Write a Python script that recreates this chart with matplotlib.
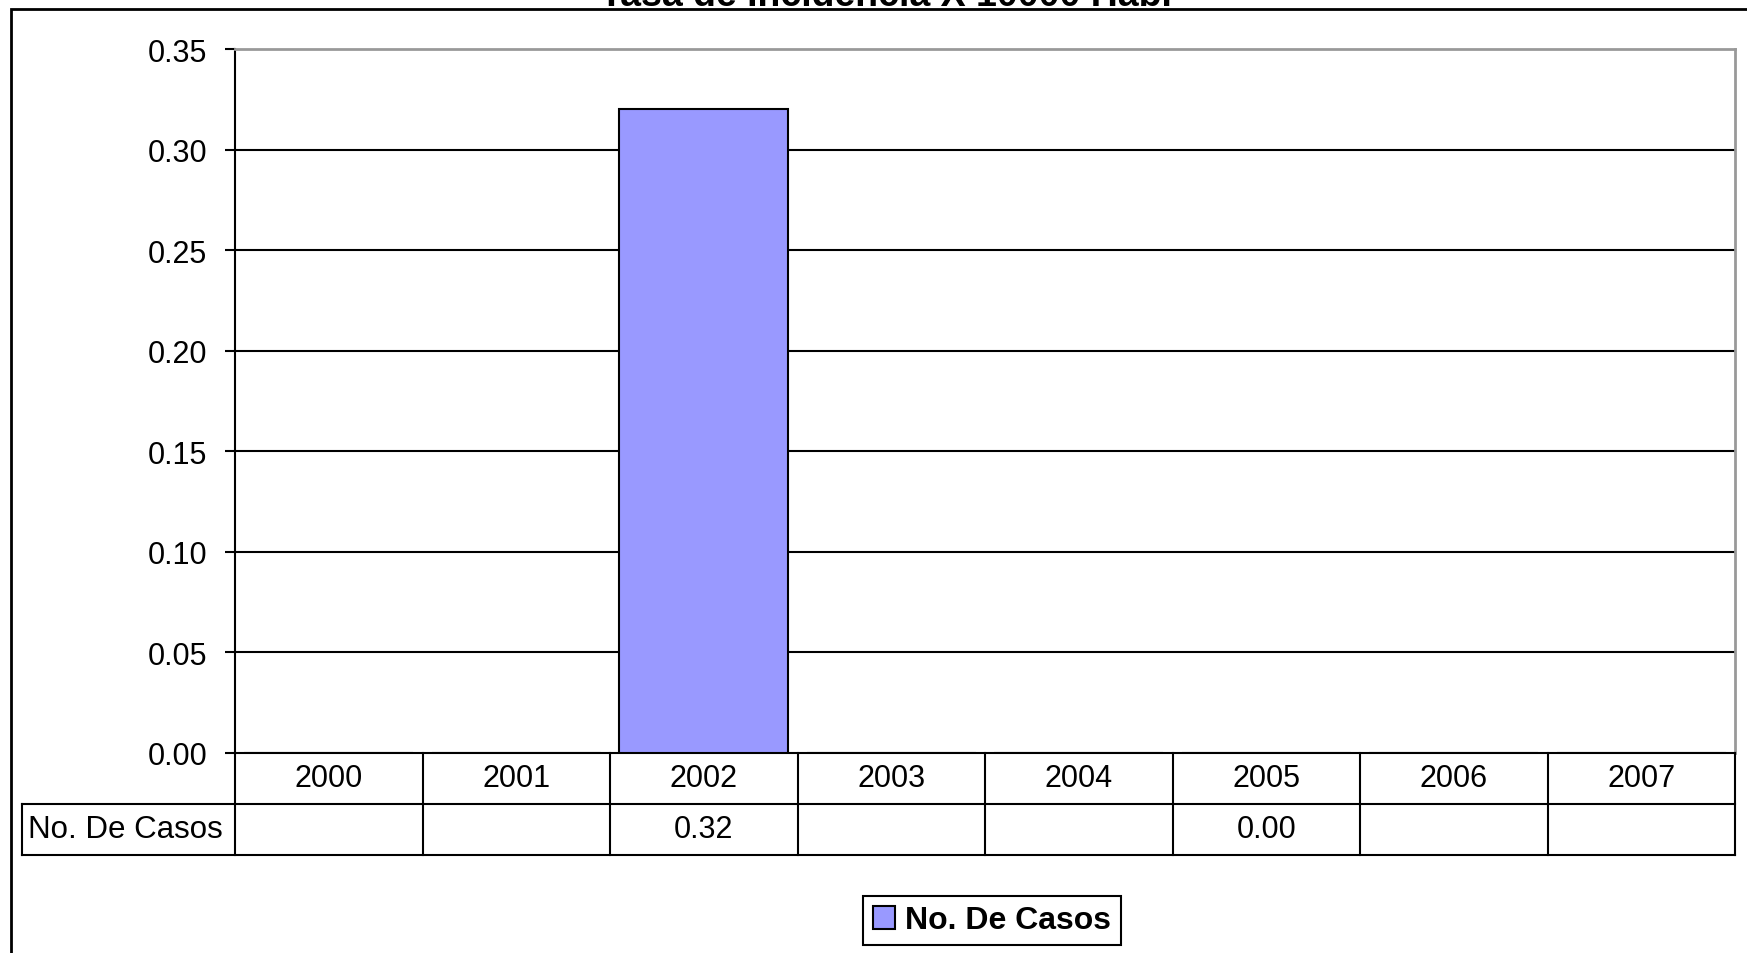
import numpy as np
import matplotlib.pyplot as plt
from matplotlib.patches import Rectangle

plt.rcParams['font.family'] = ['Liberation Sans', 'DejaVu Sans']

years = ['2000', '2001', '2002', '2003', '2004', '2005', '2006', '2007']
casos = [np.nan, np.nan, 0.32, np.nan, np.nan, 0.00, np.nan, np.nan]
serie = 'No. De Casos'
titulo = 'Tasa de Incidencia X 10000 Hab.'
yticks = [0.00, 0.05, 0.10, 0.15, 0.20, 0.25, 0.30, 0.35]

W, H = 1747, 954
fig = plt.figure(figsize=(W / 100, H / 100), dpi=100)

# pixel layout of the chart area and the data table below it
px_left, px_right = 235, 1735
px_top, px_zero, px_tab = 50, 754, 856
px_label = 22

ax = fig.add_axes([px_left / W, 1 - px_zero / H, (px_right - px_left) / W, (px_zero - px_top) / H])
x = np.arange(len(years))
vals = np.array(casos, dtype=float)
bars = ax.bar(x, np.nan_to_num(vals), width=0.9, color='#9999ff', edgecolor='black',
              linewidth=1.5, label=serie, zorder=3)
ax.set_xlim(-0.5, len(years) - 0.5)
ax.set_ylim(0, 0.35)
ax.set_yticks(yticks)
ax.set_yticklabels(['%.2f' % t for t in yticks])
ax.set_xticks([])
for t in yticks[1:-1]:
    ax.axhline(t, color='black', lw=1.5, zorder=1)
ax.spines['top'].set_color('#999999')
ax.spines['right'].set_color('#999999')
ax.spines['top'].set_linewidth(2)
ax.spines['right'].set_linewidth(2)
ax.spines['left'].set_linewidth(1.5)
ax.spines['bottom'].set_linewidth(1.5)
ax.tick_params(axis='y', length=7, width=1.5, pad=13, labelsize=22, colors='black')

# data table under the axis, using the same category positions
tab = fig.add_axes([px_left / W, 1 - px_tab / H, (px_right - px_left) / W, (px_tab - px_zero) / H])
tab.set_xlim(-0.5, len(years) - 0.5)
tab.set_ylim(0, 2)
tab.axis('off')
step = (px_right - px_left) / len(years)
xl = (px_label - px_left) / step - 0.5
lk = dict(color='black', lw=1.5, clip_on=False)
for i in range(len(years) + 1):
    tab.plot([i - 0.5, i - 0.5], [0, 2], **lk)
tab.plot([xl, len(years) - 0.5], [0, 0], **lk)
tab.plot([xl, len(years) - 0.5], [1, 1], **lk)
tab.plot([xl, xl], [0, 1], **lk)
for i, yr in enumerate(years):
    tab.text(i, 1.5, yr, ha='center', va='center', fontsize=22)
    if not np.isnan(vals[i]):
        tab.text(i, 0.5, '%.2f' % vals[i], ha='center', va='center', fontsize=22)
tab.text(xl + 0.03, 0.5, serie, ha='left', va='center', fontsize=22.5, clip_on=False)

# outer chart frame
fig.add_artist(Rectangle((11 / W, -0.1), 2, 1 - 10 / H + 0.1, transform=fig.transFigure,
                         fill=False, edgecolor='black', lw=2))
fig.text(886 / W, 1 - 6 / H, titulo, ha='center', va='baseline', fontsize=27, fontweight='bold')

leg = fig.legend(handles=[bars], labels=[serie], loc='center',
                 bbox_to_anchor=(992 / W, 1 - 921.5 / H), prop={'size': 23, 'weight': 'bold'},
                 fancybox=False, framealpha=1, edgecolor='black', handlelength=0.7,
                 handleheight=0.7, handletextpad=0.3, borderpad=0.3)
leg.get_frame().set_linewidth(1.5)

fig.savefig('out.png', dpi=100)
